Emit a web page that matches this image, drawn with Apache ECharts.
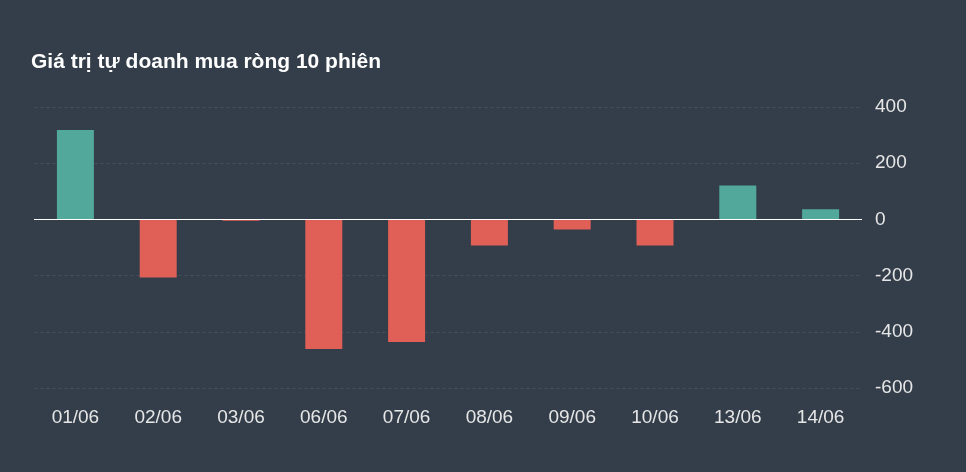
<!DOCTYPE html>
<html>
<head>
<meta charset="utf-8">
<script src="https://cdn.jsdelivr.net/npm/echarts@6/dist/echarts.min.js"></script>
<style>
html, body { margin: 0; padding: 0; background: #333e4a; }
#chart { width: 966px; height: 472px; }
</style>
</head>
<body>
<div id="chart"></div>
<script>
var categories = ['01/06', '02/06', '03/06', '06/06', '07/06', '08/06', '09/06', '10/06', '13/06', '14/06'];
var values = [318, -207, -5, -461, -436, -93, -36, -93, 121, 36];

var myChart = echarts.init(document.getElementById('chart'));
myChart.setOption({
    backgroundColor: '#333e4a',
    title: {
        text: 'Giá trị tự doanh mua ròng 10 phiên',
        left: 26,
        top: 47,
        textStyle: { color: '#fff', fontSize: 21, fontWeight: 'bold', fontFamily: 'Liberation Sans, Arial' }
    },
    grid: { left: 34, right: 104, top: 107, bottom: 84 },
    xAxis: {
        type: 'category',
        data: categories,
        axisLine: { show: false },
        axisTick: { show: false },
        axisLabel: { color: '#e6e6e6', fontSize: 19, margin: 20, fontFamily: 'Liberation Sans, Arial' }
    },
    yAxis: {
        type: 'value',
        position: 'right',
        min: -600,
        max: 400,
        interval: 200,
        axisLine: { show: false },
        axisTick: { show: false },
        axisLabel: { color: '#e6e6e6', fontSize: 19, margin: 13, fontFamily: 'Liberation Sans, Arial' },
        splitLine: { lineStyle: { color: '#414c58', type: 'dashed' } }
    },
    series: [{
        type: 'bar',
        data: values,
        barWidth: 37,
        itemStyle: {
            color: function (p) { return p.value >= 0 ? '#52a89a' : '#e05f57'; }
        },
        markLine: {
            silent: true,
            symbol: 'none',
            label: { show: false },
            lineStyle: { color: '#ffffff', type: 'solid', width: 1 },
            data: [{ yAxis: 0 }]
        }
    }]
});
</script>
</body>
</html>
